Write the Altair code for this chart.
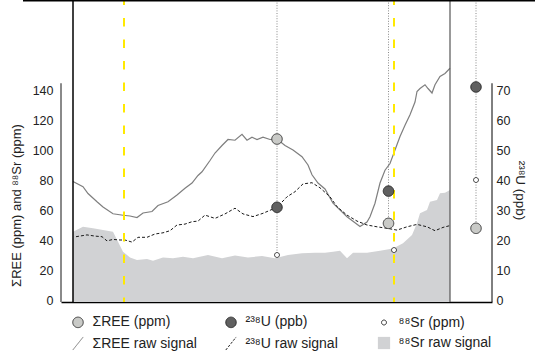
import altair as alt
import pandas as pd

# ---- raw time-resolved signals (acquisition time, arbitrary units) ----
ree_t = [0, 10, 15, 24, 30, 40, 50, 57, 64, 70, 79, 85, 95, 104, 112, 119, 125, 129, 137, 142,
         149, 155, 162, 169, 174, 179, 184, 190, 197, 204, 212, 220, 229, 235, 239, 245, 252, 260, 274, 287,
         294, 297, 302, 307, 312, 317, 322, 327, 332, 337, 342, 344, 347, 352, 355, 359, 362, 367, 372, 377]
ree_raw = [79, 75.5, 71, 65.5, 62, 57.5, 56.5, 56, 55, 58, 59, 63, 65.5, 70, 74.5, 78, 83, 85.5, 93, 98,
           103, 107, 106.5, 110.5, 106.5, 108.5, 107, 108.5, 107, 107.3, 103, 100, 95.5, 90, 83.5, 78, 74, 64.5, 55.5, 49,
           52, 55.5, 64.5, 78, 86.5, 91, 100, 109, 116.5, 123.5, 132, 139, 141, 143.5, 141, 138, 143.5, 149, 151, 154.5]

u_t = [3, 14, 22, 29, 34, 40, 47, 52, 59, 65, 74, 82, 90, 97, 104, 112, 119, 125, 132, 142,
       152, 162, 170, 180, 190, 204, 214, 222, 230, 239, 247, 257, 264, 274, 284, 294, 304, 314, 324, 334,
       344, 354, 362, 370, 377]
u_raw = [21.1, 21.7, 21.3, 21.1, 19.7, 20.2, 20, 20, 19.3, 20.9, 20.9, 22, 22.4, 23.1, 25, 25.3, 26.1, 26.3, 28.3, 27.2,
         28.7, 30.6, 28.7, 27.8, 28.9, 30.9, 34.4, 36.1, 38.7, 39.1, 37.4, 34.4, 31.1, 28.3, 26.3, 25, 24.4, 23.9, 23.3, 24.4,
         25.2, 24.4, 23.1, 24.2, 24.8]

sr_t = [0, 10, 20, 30, 40, 45, 50, 57, 64, 74, 80, 90, 100, 110, 120, 135, 149, 162, 175, 189,
        202, 215, 229, 242, 252, 260, 267, 274, 280, 294, 307, 320, 330, 339, 344, 347, 354, 357, 364, 367,
        372, 377]
sr_raw = [45.5, 48.9, 47.8, 46.7, 45.5, 38.9, 32.2, 28.4, 26.7, 27.3, 26.2, 28.4, 27.8, 28.9, 27.8, 30, 27.8, 29.6, 28.4, 29.3,
          27.8, 30, 31.1, 31.5, 31.5, 32.2, 32.9, 27.8, 31.5, 31.5, 32.9, 34.4, 37.8, 43.3, 51.1, 57.8, 60, 65.5, 66.7, 71.1,
          71.5, 73.3]

# ---- spot analyses ----
spot_t = [204, 315.5, 403]
spot_ree = [107.3, 51.1, 47.8]
spot_u = [30.9, 36.3, 71.0]
spot_sr_t = [204, 321, 403]
spot_sr = [30.0, 33.3, 80.0]

# boundaries: ablation markers and panel edges
ablation_t = [51, 321]
panel_edges = [0, 377]

left_ticks = [0, 20, 40, 60, 80, 100, 120, 140]
right_ticks = [0, 10, 20, 30, 40, 50, 60, 70]

series_order = ["ΣREE (ppm)", "²³⁸U (ppb)", "⁸⁸Sr (ppm)",
                "ΣREE raw signal", "²³⁸U raw signal", "⁸⁸Sr raw signal"]

T_DOMAIN = [-12, 419]
LEFT_DOMAIN = [-4 / 3, 200]
U_DOMAIN = [-2 / 3, 100]
LEFT_AXIS_TOP = 144.5
TOP_LINE = [-50, 462]

FONT = "Liberation Sans"
INK = "#222222"
REE_GREY = "#7f7f7f"
SR_GREY = "#d1d2d4"
YELLOW = "#ffe900"
SLASH = "M -0.8 1 L 0.8 -1"

ree_df = pd.DataFrame({"t": ree_t, "v": ree_raw})
u_df = pd.DataFrame({"t": u_t, "v": u_raw})
sr_df = pd.DataFrame({"t": sr_t, "v": sr_raw, "base": LEFT_DOMAIN[0]})

left_pts = pd.DataFrame({
    "series": ["ΣREE (ppm)"] * len(spot_t) + ["⁸⁸Sr (ppm)"] * len(spot_sr_t),
    "t": spot_t + spot_sr_t,
    "v": spot_ree + spot_sr,
})
u_pts = pd.DataFrame({"series": ["²³⁸U (ppb)"] * len(spot_t), "t": spot_t, "v": spot_u})

# dotted guide from the top of the frame down to the lowest circle on each spot
guide_bottom = []
for i, t in enumerate(spot_t):
    vals = [spot_ree[i], 2 * spot_u[i]]
    if spot_sr_t[i] == t:
        vals.append(spot_sr[i])
    guide_bottom.append(min(vals))
guides = pd.DataFrame({"t": spot_t, "top": LEFT_DOMAIN[1], "bottom": guide_bottom})

x_scale = alt.Scale(domain=T_DOMAIN, nice=False, zero=False)
left_scale = alt.Scale(domain=LEFT_DOMAIN, nice=False, zero=False)
u_scale = alt.Scale(domain=U_DOMAIN, nice=False, zero=False)

x_axis = alt.Axis(labels=False, ticks=False, grid=False, title=None, domain=True,
                  domainColor="#000000", domainWidth=1.5)

left_axis = alt.Axis(values=left_ticks, grid=False, domain=False, ticks=False, tickSize=0,
                     labelPadding=8, labelFont=FONT, labelFontSize=12.5, labelColor=INK,
                     title="ΣREE (ppm) and ⁸⁸Sr (ppm)", titleFont=FONT, titleFontSize=13,
                     titleFontWeight="normal", titleColor=INK, titleAngle=270,
                     titleAlign="center", titleBaseline="middle", titleX=-45, titleY=205)

right_axis = alt.Axis(orient="right", values=right_ticks, grid=False, domain=False, ticks=False,
                      tickSize=0, labelPadding=4, labelFont=FONT, labelFontSize=12.5,
                      labelColor=INK, title="²³⁸U (ppb)", titleFont=FONT, titleFontSize=13.5,
                      titleFontWeight="normal", titleColor=INK, titleAngle=90,
                      titleAlign="center", titleBaseline="middle", titleX=27, titleY=190)

legend = alt.Legend(title=None, orient="none", legendX=9.5, legendY=314, columns=3,
                    direction="horizontal", columnPadding=25, rowPadding=3, labelOffset=7,
                    labelFont=FONT, labelFontSize=14, labelColor=INK, gridAlign="all",
                    symbolStrokeWidth=1, labelLimit=220, padding=0)


def X(field="t"):
    return alt.X(f"{field}:Q", scale=x_scale, axis=x_axis)


def symbol_channels():
    return dict(
        fill=alt.Fill("series:N", legend=legend, scale=alt.Scale(
            domain=series_order,
            range=["#c9cac7", "#606060", "#ffffff", "transparent", "transparent", SR_GREY])),
        stroke=alt.Stroke("series:N", legend=legend, scale=alt.Scale(
            domain=series_order,
            range=["#333333", "#222222", "#222222", REE_GREY, "#222222", "transparent"])),
        shape=alt.Shape("series:N", legend=legend, scale=alt.Scale(
            domain=series_order,
            range=["circle", "circle", "circle", SLASH, SLASH, "square"])),
        size=alt.Size("series:N", legend=legend, scale=alt.Scale(
            type="ordinal", domain=series_order, range=[110, 110, 24, 170, 170, 150])),
        strokeDash=alt.StrokeDash("series:N", legend=legend, scale=alt.Scale(
            domain=series_order,
            range=[[1, 0], [1, 0], [1, 0], [1, 0], [2.5, 1.5], [1, 0]])),
    )


# background: Sr area and REE trace, carrying the left axis
sr_area = alt.Chart(sr_df).mark_area(color=SR_GREY, interpolate="linear").encode(
    x=X(), y=alt.Y("v:Q", scale=left_scale, axis=left_axis),
    y2=alt.Y2("base:Q"))
ree_line = alt.Chart(ree_df).mark_line(color=REE_GREY, strokeWidth=1.2).encode(
    x=X(), y=alt.Y("v:Q", scale=left_scale, axis=left_axis))
left_bg = alt.layer(sr_area, ree_line)

# U trace on its own (right) axis
u_line = alt.Chart(u_df).mark_line(color="#1a1a1a", strokeWidth=1, strokeDash=[3, 2]).encode(
    x=X(), y=alt.Y("v:Q", scale=u_scale, axis=right_axis))

# foreground: guides, frame, markers
y_noaxis = dict(scale=left_scale, axis=None)

guide_rules = alt.Chart(guides).mark_rule(color="#8a8a8a", strokeWidth=1, strokeDash=[1, 1.6]).encode(
    x=X(), y=alt.Y("top:Q", **y_noaxis), y2="bottom:Q")

ablation = alt.Chart(pd.DataFrame({"t": ablation_t, "top": LEFT_DOMAIN[1], "bottom": LEFT_DOMAIN[0]})).mark_rule(
    color=YELLOW, strokeWidth=2, strokeDash=[8.5, 13], strokeDashOffset=3.5).encode(
    x=X(), y=alt.Y("top:Q", **y_noaxis), y2="bottom:Q")

edges_df = pd.DataFrame({"t": panel_edges, "top": LEFT_DOMAIN[1], "bottom": LEFT_DOMAIN[0]})
left_edge = alt.Chart(edges_df.iloc[[0]]).mark_rule(color="#000000", strokeWidth=1.5).encode(
    x=X(), y=alt.Y("top:Q", **y_noaxis), y2="bottom:Q")
right_edge = alt.Chart(edges_df.iloc[[1]]).mark_rule(color="#555555", strokeWidth=1.2).encode(
    x=X(), y=alt.Y("top:Q", **y_noaxis), y2="bottom:Q")

top_line = alt.Chart(pd.DataFrame({"t0": [TOP_LINE[0]], "t1": [TOP_LINE[1]], "v": [199.5]})).mark_rule(
    color="#000000", strokeWidth=1.5).encode(
    x=X("t0"), x2="t1:Q", y=alt.Y("v:Q", **y_noaxis))

axis_df = pd.DataFrame({"t": T_DOMAIN, "top": LEFT_AXIS_TOP, "bottom": LEFT_DOMAIN[0]})
left_axis_line = alt.Chart(axis_df.iloc[[0]]).mark_rule(color="#8a8a8a", strokeWidth=2).encode(
    x=X(), y=alt.Y("top:Q", **y_noaxis), y2="bottom:Q")
right_axis_line = alt.Chart(axis_df.iloc[[1]]).mark_rule(color="#000000", strokeWidth=1).encode(
    x=X(), y=alt.Y("top:Q", **y_noaxis), y2="bottom:Q")

left_markers = alt.Chart(left_pts).mark_point(filled=True, opacity=1, strokeWidth=1).encode(
    x=X(), y=alt.Y("v:Q", **y_noaxis), **symbol_channels())

left_fg = alt.layer(guide_rules, ablation, left_edge, right_edge, top_line,
                    left_axis_line, right_axis_line, left_markers)

u_markers = alt.Chart(u_pts).mark_point(filled=True, opacity=1, strokeWidth=1).encode(
    x=X(), y=alt.Y("v:Q", scale=u_scale, axis=None), **symbol_channels())

chart = alt.layer(left_bg, u_line, left_fg, u_markers).resolve_scale(
    y="independent"
).properties(
    width=431, height=302,
    autosize=alt.AutoSizeParams(type="none"),
    padding={"left": 61, "top": 0, "right": 43, "bottom": 50},
).configure_view(stroke=None)

chart.save("out.html", embed_options={"renderer": "svg", "actions": False})
